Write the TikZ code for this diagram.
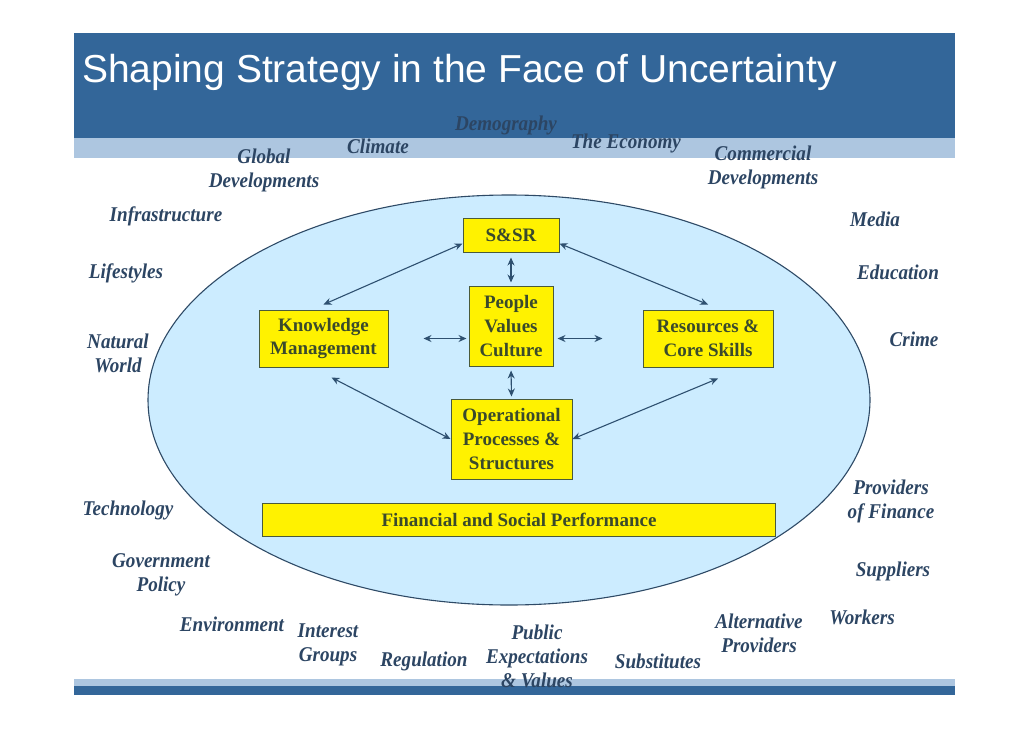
\documentclass[tikz,border=0pt]{standalone}
\usepackage{fontspec}
\setmainfont{Liberation Serif}
\newfontfamily\titlefont{Liberation Sans}
\newfontfamily\lblfont[FakeStretch=0.91]{Liberation Serif}
\usetikzlibrary{arrows.meta,shapes.geometric}
\definecolor{banddark}{HTML}{336699}
\definecolor{bandlight}{HTML}{ADC6E0}
\definecolor{ellfill}{HTML}{CCECFF}
\definecolor{elldraw}{HTML}{2E4A66}
\definecolor{lblcol}{HTML}{2C4563}
\definecolor{boxtext}{HTML}{3A4A2C}
\definecolor{boxdraw}{HTML}{4A5A3A}
\definecolor{arrcol}{HTML}{2E5070}
\newcommand{\lbltext}{\lblfont\bfseries\itshape\fontsize{21}{24}\selectfont}

\begin{document}
\begin{tikzpicture}[x=1pt,y=-1pt,
  box/.style={draw=boxdraw,fill=yellow,line width=1pt,inner sep=0pt,align=center,text=boxtext,
    font=\bfseries\fontsize{19}{24}\selectfont},
  lbl/.style={text=lblcol,align=center,inner sep=0pt,yshift=-2pt,font=\lbltext},
  arr/.style={{Stealth[length=8pt,width=7pt]}-{Stealth[length=8pt,width=7pt]},line width=1.1pt,color=arrcol}]
  \useasboundingbox[fill=white] (0,0) rectangle (1030,728);
  % header and footer bands
  \fill[banddark] (74,33) rectangle (955,138);
  \fill[bandlight] (74,138) rectangle (955,158);
  \fill[bandlight] (74,679) rectangle (955,686);
  \fill[banddark] (74,686) rectangle (955,695);
  \node[anchor=base west,inner sep=0pt,text=white,font=\titlefont\fontsize{39}{44}\selectfont] (title) at (82,82)
    {Shaping Strategy in the Face of Uncertainty};
  % the organisation
  \node[ellipse,draw=elldraw,fill=ellfill,line width=1.1pt,minimum width=722pt,minimum height=410pt,inner sep=0pt] (org) at (509,400) {};
  \node[box,minimum width=96pt,minimum height=34pt] (ssr) at (511,235) {S\&SR};
  \node[box,minimum width=84pt,minimum height=80pt] (pvc) at (511,326) {People\\Values\\Culture};
  \node[box,minimum width=129pt,minimum height=57pt] (km) at (323.5,338.5) {Knowledge\\Management};
  \node[box,minimum width=130pt,minimum height=57pt] (rcs) at (708,338.5) {Resources \&\\Core Skills};
  \node[box,minimum width=121pt,minimum height=80pt] (ops) at (511.5,439) {Operational\\Processes \&\\Structures};
  \node[box,minimum width=513pt,minimum height=33pt] (fsp) at (519,519.5) {Financial and Social Performance};
  \draw[arr] (ssr.190) -- ([yshift=5pt]km.north);
  \draw[arr] (ssr.350) -- ([yshift=5pt]rcs.north);
  \draw[arr,shorten <=5pt,shorten >=3pt] (ssr.south) -- (pvc.north);
  \draw[arr,shorten <=4pt,shorten >=2pt] (pvc.south) -- (ops.north);
  \draw[arr,shorten <=35pt,shorten >=2pt] (km.east) -- (km.east -| pvc.west);
  \draw[arr,shorten <=4pt,shorten >=40pt] (pvc.east |- rcs.west) -- (rcs.west);
  \draw[arr] ([xshift=8pt,yshift=-10pt]km.south) -- (ops.west);
  \draw[arr] ([xshift=10pt,yshift=-11pt]rcs.south) -- (ops.east);
  % the world outside
  \node[lbl] (demog) at (506,123) {Demography};
  \node[lbl] (climate) at (378,144) {Climate};
  \node[lbl] (economy) at (626,141) {The Economy};
  \node[lbl] (global) at (264,168) {Global\\Developments};
  \node[lbl] (commercial) at (763,165) {Commercial\\Developments};
  \node[lbl] (infra) at (166,214) {Infrastructure};
  \node[lbl] (media) at (875,217) {Media};
  \node[lbl] (lifestyles) at (126,271) {Lifestyles};
  \node[lbl] (education) at (898,270) {Education};
  \node[lbl] (natural) at (118,351) {Natural\\World};
  \node[lbl] (crime) at (914,337) {Crime};
  \node[lbl] (technology) at (128,508) {Technology};
  \node[lbl] (finance) at (891,499.5) {Providers\\of Finance};
  \node[lbl] (govt) at (161,572.5) {Government\\Policy};
  \node[lbl] (suppliers) at (893,569) {Suppliers};
  \node[lbl] (environment) at (232,622) {Environment};
  \node[lbl] (workers) at (862,615) {Workers};
  \node[lbl] (altprov) at (759,631.5) {Alternative\\Providers};
  \node[lbl] (interest) at (328,642.5) {Interest\\Groups};
  \node[lbl] (regulation) at (424,659) {Regulation};
  \node[lbl] (public) at (537,654.5) {Public\\Expectations\\\& Values};
  \node[lbl] (substitutes) at (658,659) {Substitutes};
\end{tikzpicture}
\end{document}
